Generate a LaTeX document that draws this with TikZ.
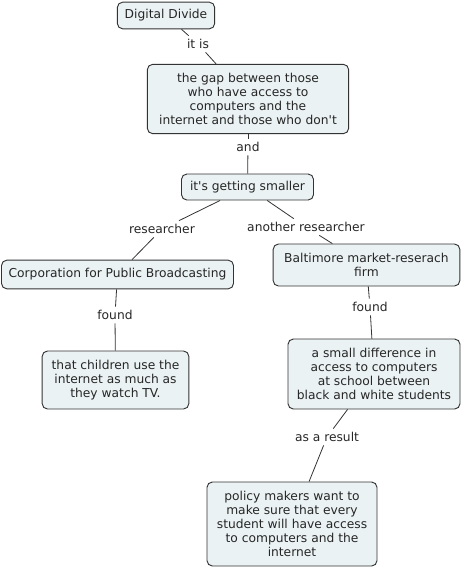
\documentclass[tikz,border=0pt]{standalone}
\usepackage{fontspec}
\setmainfont{DejaVu Sans}
\usetikzlibrary{positioning}
\definecolor{cBox}{HTML}{EBF2F4}
\definecolor{cLine}{HTML}{333333}
\tikzset{
  concept/.style={draw=cLine, line width=0.7pt, rounded corners=4pt, fill=cBox,
    align=center, font=\fontsize{9.2}{10.5}\selectfont, inner sep=2pt, text=black!85},
  link/.style={align=center, font=\fontsize{9.2}{10.5}\selectfont, inner sep=2.5pt, text=black!85},
  conn/.style={draw=cLine, line width=0.6pt},
}
\begin{document}
\begin{tikzpicture}[x=0.75pt,y=-0.75pt]
    \useasboundingbox (0,0) rectangle (461,569);
    % --- concepts ---
    \node[concept, minimum width=73pt, minimum height=20pt]   (dd)   at (166,15.5) {Digital Divide};
    \node[concept, minimum width=151pt, minimum height=52pt]  (gap)  at (248,99)
      {the gap between those\\who have access to\\computers and the\\internet and those who don\textquotesingle t};
    \node[concept, minimum width=99pt, minimum height=19.5pt] (small) at (247.5,187) {it\textquotesingle s getting smaller};
    \node[concept, minimum width=174pt, minimum height=21.5pt] (cpb) at (117.5,274.5)
      {Corporation for Public Broadcasting};
    \node[concept, minimum width=140pt, minimum height=31.5pt] (balt) at (366.5,265)
      {Baltimore market-reserach\\firm};
    \node[concept, minimum width=110pt, minimum height=43.5pt] (kids) at (115.5,380)
      {that children use the\\internet as much as\\they watch TV.};
    \node[concept, minimum width=129pt, minimum height=52.5pt] (diff) at (374,374)
      {a small difference in\\access to computers\\at school between\\black and white students};
    \node[concept, minimum width=127.5pt, minimum height=63pt] (policy) at (292,524)
      {policy makers want to\\make sure that every\\student will have access\\to computers and the\\internet};
    % --- linking phrases ---
    \node[link] (itis)   at (198,44)  {it is};
    \node[link] (and)    at (248,147) {and};
    \node[link] (res)    at (162,229) {researcher};
    \node[link] (anres)  at (306,227) {another researcher};
    \node[link] (found1) at (115,315) {found};
    \node[link] (found2) at (370,307) {found};
    \node[link] (result) at (327,437) {as a result};
    % --- connectors ---
    \draw[conn] (dd) -- (itis);      \draw[conn] (itis) -- (gap);
    \draw[conn] (gap) -- (and);      \draw[conn] (and) -- (small);
    \draw[conn] (small) -- (res);    \draw[conn] (res) -- (cpb);
    \draw[conn] (small) -- (anres);  \draw[conn] (anres) -- (balt);
    \draw[conn] (cpb) -- (found1);   \draw[conn] (found1) -- (kids);
    \draw[conn] (balt) -- (found2);  \draw[conn] (found2) -- (diff);
    \draw[conn] (diff) -- (result);  \draw[conn] (result) -- (policy);
\end{tikzpicture}
\end{document}
